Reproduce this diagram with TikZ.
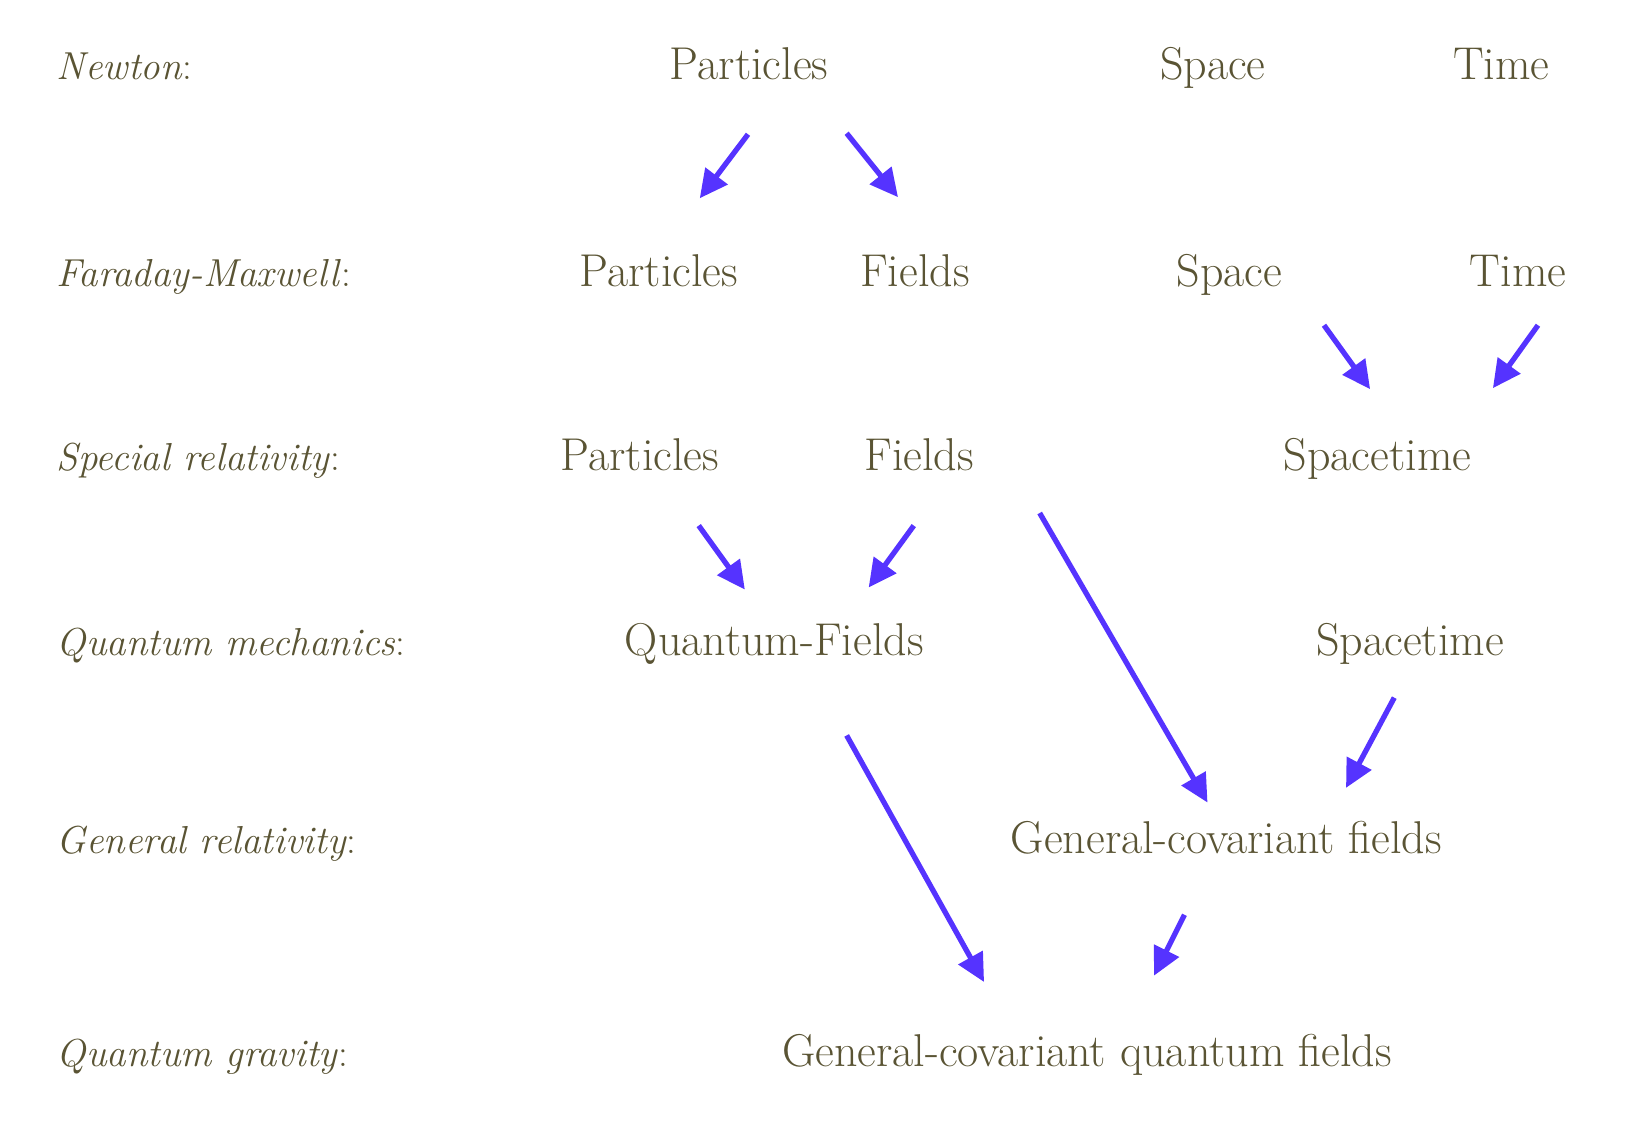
\documentclass[tikz,border=0pt]{standalone}
\usepackage{fontspec}
\usetikzlibrary{arrows.meta}
\definecolor{txt}{HTML}{5A5434}
\definecolor{arr}{HTML}{5533FF}
\begin{document}
\begin{tikzpicture}[x=1.0491pt,y=-1.0491pt,
  lbl/.style={anchor=base west,inner sep=0pt,text=txt,font=\fontsize{39}{42}\selectfont},
  item/.style={anchor=base,inner sep=0pt,text=txt,font=\fontsize{46}{50}\selectfont},
  link/.style={draw=arr,line width=5.3pt,-{Triangle[length=28pt,width=27pt]}}]
\useasboundingbox[fill=white] (0,0) rectangle (1568,1069);
% row labels
\node[lbl] (l1) at (54,76) {\textit{Newton}:};
\node[lbl] (l2) at (54,273) {\textit{Faraday-Maxwell}:};
\node[lbl] (l3) at (54,448) {\textit{Special relativity}:};
\node[lbl] (l4) at (54,625) {\textit{Quantum mechanics}:};
\node[lbl] (l5) at (54,814) {\textit{General relativity}:};
\node[lbl] (l6) at (54,1017) {\textit{Quantum gravity}:};
% items
\node[item] (n1p) at (714,76) {Particles};
\node[item] (n1s) at (1156,76) {Space};
\node[item] (n1t) at (1431,76) {Time};
\node[item] (n2p) at (628,273) {Particles};
\node[item] (n2f) at (872,273) {Fields};
\node[item] (n2s) at (1172,273) {Space};
\node[item] (n2t) at (1447,273) {Time};
\node[item] (n3p) at (610,448) {Particles};
\node[item] (n3f) at (876,448) {Fields};
\node[item] (n3st) at (1313,448) {Spacetime};
\node[item] (n4q) at (738,625) {Quantum-Fields};
\node[item] (n4st) at (1344,625) {Spacetime};
\node[item] (n5g) at (1169,814) {General-covariant fields};
\node[item] (n6g) at (1036,1017) {General-covariant quantum fields};
% arrow endpoints
\coordinate (a1s) at (713,128); \coordinate (a1e) at (667,189);
\coordinate (a2s) at (807,127); \coordinate (a2e) at (856,188);
\coordinate (a3s) at (1262,310); \coordinate (a3e) at (1306,371);
\coordinate (a4s) at (1466,310); \coordinate (a4e) at (1423,370);
\coordinate (a5s) at (666,501); \coordinate (a5e) at (710,562);
\coordinate (a6s) at (871,501); \coordinate (a6e) at (828,560);
\coordinate (a7s) at (991,489); \coordinate (a7e) at (1151,765);
\coordinate (a8s) at (1329,665); \coordinate (a8e) at (1283,751);
\coordinate (a9s) at (807,701); \coordinate (a9e) at (938,936);
\coordinate (a10s) at (1129,872); \coordinate (a10e) at (1100,930);
\foreach \i in {1,...,10} {\draw[link] (a\i s) -- (a\i e);}
\end{tikzpicture}
\end{document}
